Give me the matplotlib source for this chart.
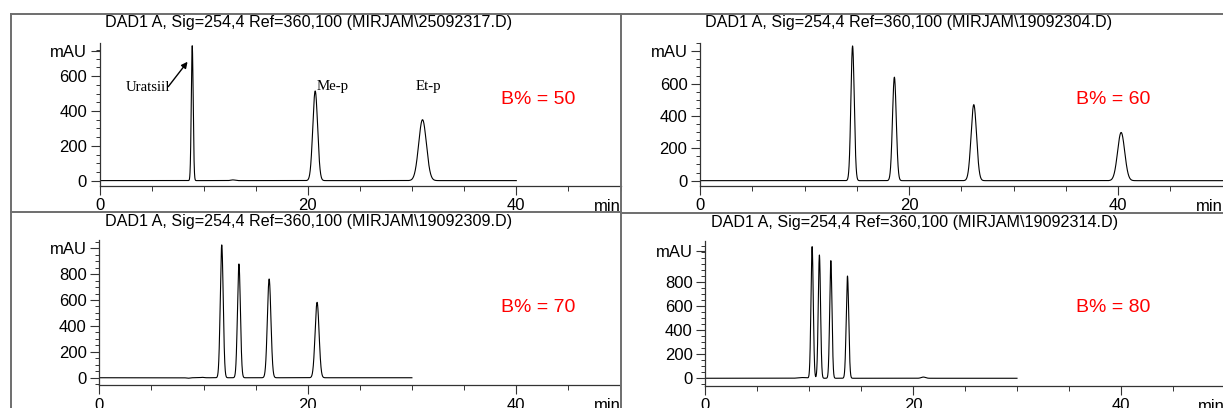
import numpy as np
import matplotlib
matplotlib.use("Agg")
import matplotlib.pyplot as plt
from matplotlib.lines import Line2D
from matplotlib.ticker import MultipleLocator

plt.rcParams["font.family"] = ["Liberation Sans", "DejaVu Sans"]

W, H = 1223, 408

# chromatogram titles and solvent strength
titles = [
    "DAD1 A, Sig=254,4 Ref=360,100 (MIRJAM\\25092317.D)",
    "DAD1 A, Sig=254,4 Ref=360,100 (MIRJAM\\19092304.D)",
    "DAD1 A, Sig=254,4 Ref=360,100 (MIRJAM\\19092309.D)",
    "DAD1 A, Sig=254,4 Ref=360,100 (MIRJAM\\19092314.D)",
]
b_labels = ["B% = 50", "B% = 60", "B% = 70", "B% = 80"]

# peak tables: retention time (min), height (mAU), sigma (min)
b50_rt = [8.9, 12.8, 20.7, 31.0]
b50_h = [775, 4, 515, 350]
b50_w = [0.09, 0.2, 0.23, 0.37]

b60_rt = [14.6, 18.6, 26.2, 40.3]
b60_h = [833, 640, 470, 298]
b60_w = [0.16, 0.18, 0.26, 0.34]

b70_rt = [8.5, 9.9, 11.75, 13.4, 16.3, 20.9]
b70_h = [-4, 3, 1025, 878, 762, 582]
b70_w = [0.15, 0.15, 0.14, 0.14, 0.17, 0.19]

b80_rt = [9.4, 10.3, 11.0, 12.1, 13.7, 21.0]
b80_h = [6, 1097, 1027, 980, 852, 10]
b80_w = [0.4, 0.11, 0.11, 0.11, 0.12, 0.2]

run_end = [40, 52, 30, 30]
mau_pos = [747, 800, 1000, 1060]
ylims = [(-31, 789), (-33, 853), (-56, 1063), (-62, 1144)]

peaks = [(b50_rt, b50_h, b50_w), (b60_rt, b60_h, b60_w),
         (b70_rt, b70_h, b70_w), (b80_rt, b80_h, b80_w)]

# axes boxes in pixels: left, top, right, bottom
boxes = [(99.5, 43.3, 620.5, 186), (700, 42.7, 1222.5, 186),
         (99.3, 240, 620.3, 385), (705, 241, 1225, 385.7)]
title_xy = [(309, 23), (909, 23), (309, 222), (915, 223)]
blabel_xy = [(538, 100), (1113, 100), (538, 308), (1113, 308)]


def fx(x):
    return x / W


def fy(y):
    return 1 - y / H


fig = plt.figure(figsize=(W / 100, H / 100), dpi=100)

# panel frames (pasted screenshots)
frame_c = "#6e6e6e"
for seg in [((11, 13.5), (621, 13.5)), ((11, 13.5), (11, 408)), ((11, 212), (621, 212)),
            ((621, 13.5), (1223, 13.5)), ((621, 13.5), (621, 408)), ((621, 213), (1223, 213))]:
    (x0, y0), (x1, y1) = seg
    fig.add_artist(Line2D([fx(x0), fx(x1)], [fy(y0), fy(y1)], color=frame_c, lw=1.4))

for i in range(4):
    l, t, r, b = boxes[i]
    ax = fig.add_axes([fx(l), fy(b), fx(r - l), (b - t) / H])
    ax.patch.set_alpha(0)
    rt, h, w = peaks[i]
    x = np.linspace(0, run_end[i], 8000)
    y = np.zeros_like(x)
    for p_rt, p_h, p_w in zip(rt, h, w):
        y += p_h * np.exp(-0.5 * ((x - p_rt) / p_w) ** 2)
    ax.plot(x, y, color="black", lw=0.8)

    ax.set_xlim(0, 50)
    ax.set_ylim(*ylims[i])
    for s in ["top", "right"]:
        ax.spines[s].set_visible(False)
    for s in ["left", "bottom"]:
        ax.spines[s].set_color("#333333")
        ax.spines[s].set_linewidth(0.9)

    ax.set_xticks([0, 20, 40])
    ax.xaxis.set_minor_locator(MultipleLocator(5))
    top_major = 800 if ylims[i][1] > 1000 else 600
    yt = list(range(0, top_major + 1, 200)) + [mau_pos[i]]
    ax.set_yticks(yt)
    ax.set_yticklabels([str(v) for v in yt[:-1]] + ["mAU"])
    ax.yaxis.set_minor_locator(MultipleLocator(50))
    ax.tick_params(which="major", length=6.5, width=0.8, color="#333333",
                   labelsize=12, pad=2.5)
    ax.tick_params(which="minor", length=3.2, width=0.7, color="#333333")
    ax.tick_params(axis="x", which="minor", length=3.6)

    ax.annotate("min", xy=(1, 0), xycoords="axes fraction", xytext=(0, -21),
                textcoords="offset pixels", ha="right", va="center", fontsize=12)

    tx, ty = title_xy[i]
    fig.text(fx(tx), fy(ty), titles[i], ha="center", va="center", fontsize=11.6)
    bx, by = blabel_xy[i]
    fig.text(fx(bx), fy(by), b_labels[i], ha="center", va="center",
             fontsize=14, color="#ff0000")

    if i == 0:
        serif = ["Liberation Serif", "DejaVu Serif"]
        ax.text(2.5, 535, "Uratsiil", family=serif, fontsize=10.7, va="center")
        ax.text(20.8, 538, "Me-p", family=serif, fontsize=10.7, va="center")
        ax.text(30.3, 538, "Et-p", family=serif, fontsize=10.7, va="center")
        ax.annotate("", xy=(8.45, 683), xytext=(6.6, 540),
                    arrowprops=dict(arrowstyle="-|>", color="black", lw=1.0,
                                    mutation_scale=9, shrinkA=0, shrinkB=0))

fig.savefig("out.png", dpi=100)
